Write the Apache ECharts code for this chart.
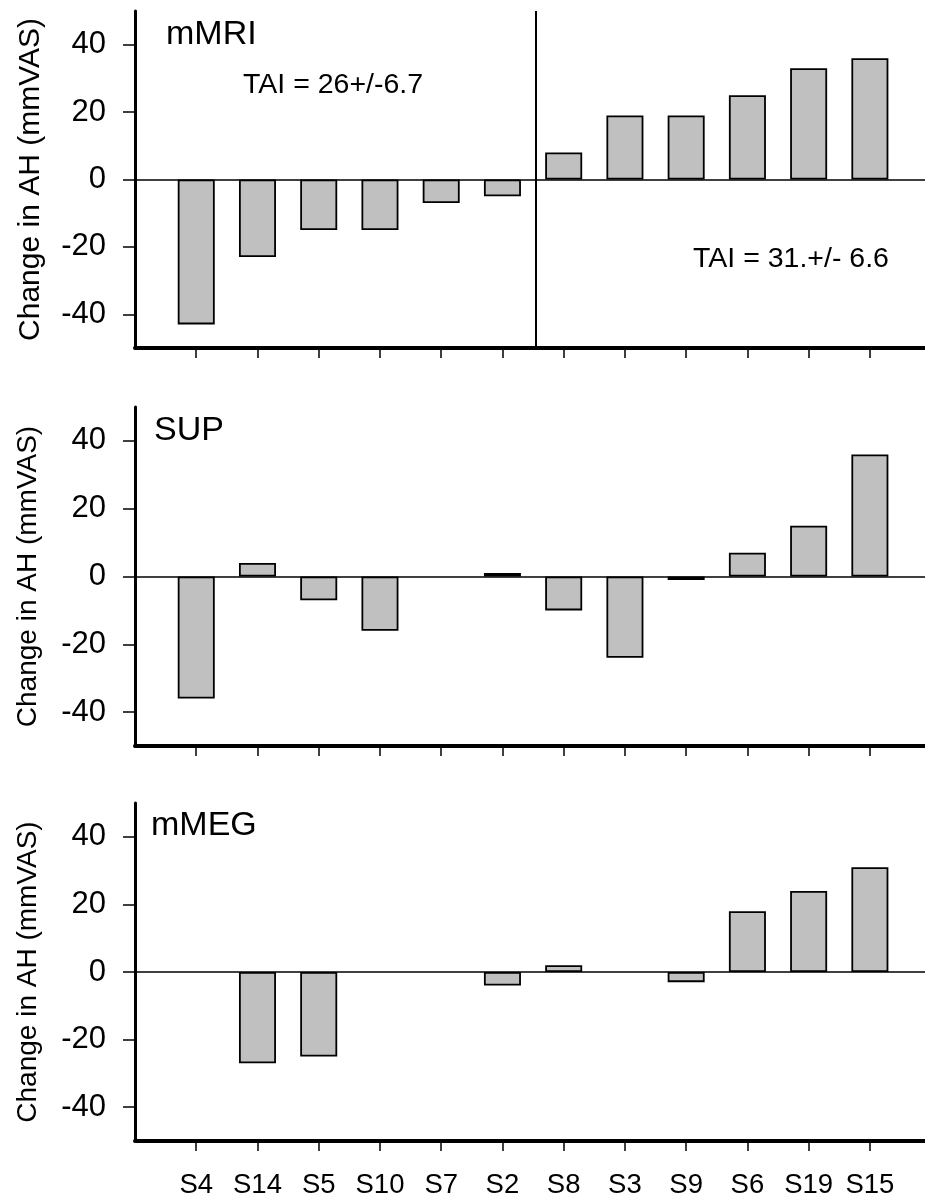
<!DOCTYPE html>
<html>
<head>
<meta charset="utf-8">
<script src="https://cdn.jsdelivr.net/npm/echarts@6/dist/echarts.min.js"></script>
<style>
  html, body { margin: 0; padding: 0; background: #fff; }
  #chart { width: 925px; height: 1196px; }
</style>
</head>
<body>
<div id="chart"></div>
<script>
// subjects, in plotting order
var subjects = ['S4', 'S14', 'S5', 'S10', 'S7', 'S2', 'S8', 'S3', 'S9', 'S6', 'S19', 'S15'];
// change in AH (mmVAS) per panel
var mMRI = [-43, -23, -15, -15, -7, -5, 8, 19, 19, 25, 33, 36];
var SUP  = [-36, 4, -7, -16, 0, 1, -10, -24, -1, 7, 15, 36];
var mMEG = [0, -27, -25, 0, 0, -4, 2, 0, -3, 18, 24, 31];
var panelNames = ['mMRI', 'SUP', 'mMEG'];
var yTicks = [-40, -20, 0, 20, 40];
var xTicks = [0, 1, 2, 3, 4, 5, 6, 7, 8, 9, 10, 11];
var splitAt = 5.55; // divider between the two groups in mMRI

var font = 'Liberation Sans, Arial, sans-serif';
var grids = [
  { left: 135, right: 0, top: 11, height: 337, outerBoundsMode: 'none' },
  { left: 135, right: 0, top: 407, height: 339, outerBoundsMode: 'none' },
  { left: 135, right: 0, top: 803, height: 338, outerBoundsMode: 'none' }
];

function toBars(arr) {
  var out = [];
  for (var i = 0; i < arr.length; i++) {
    var item = { value: [i, arr[i]] };
    if (arr[i] === 0) { item.itemStyle = { borderWidth: 0 }; } // nothing drawn for empty
    out.push(item);
  }
  return out;
}

var xAxes = [], yAxes = [], series = [];
var panels = [mMRI, SUP, mMEG];
for (var p = 0; p < 3; p++) {
  xAxes.push({
    type: 'value', gridIndex: p, min: -1, max: 11.9,
    axisLine: { show: true, onZero: false, lineStyle: { color: '#000', width: 4 } },
    axisTick: { show: true, inside: false, length: 10, customValues: xTicks, lineStyle: { color: '#000', width: 1.5 } },
    axisLabel: {
      show: p === 2, customValues: xTicks, margin: 30,
      color: '#000', fontFamily: font, fontSize: 27.5,
      formatter: function (v) { return subjects[Math.round(v)] || ''; }
    },
    splitLine: { show: false }
  });
  yAxes.push({
    type: 'value', gridIndex: p, min: -50, max: 50,
    name: 'Change in AH (mmVAS)', nameLocation: 'middle', nameRotate: 90,
    nameGap: p === 0 ? 89 : 93, nameMoveOverlap: false,
    nameTextStyle: { color: '#000', fontFamily: font, fontSize: p === 0 ? 30 : 28 },
    axisLine: { show: true, onZero: false, lineStyle: { color: '#000', width: 3 } },
    axisTick: { show: true, length: 12, customValues: yTicks, lineStyle: { color: '#000', width: 1.5 } },
    axisLabel: { customValues: yTicks, margin: 29, color: '#000', fontFamily: font, fontSize: 31 },
    splitLine: { show: false }
  });
  var lines = [{ yAxis: 0, lineStyle: { width: 1.5 } }];
  if (p === 0) lines.push({ xAxis: splitAt, lineStyle: { width: 2 } });
  series.push({
    type: 'bar', xAxisIndex: p, yAxisIndex: p,
    barWidth: 37,
    data: toBars(panels[p]),
    itemStyle: { color: '#c0c0c0', borderColor: '#000', borderWidth: 1.8 },
    markLine: {
      silent: true, symbol: ['none', 'none'], label: { show: false },
      lineStyle: { color: '#000', type: 'solid' },
      data: lines
    },
    z: 2
  });
}

var texts = [
  { x: 166, y: 35, text: 'mMRI', size: 34 },
  { x: 154, y: 431, text: 'SUP', size: 34 },
  { x: 151, y: 826, text: 'mMEG', size: 34 },
  { x: 243, y: 85, text: 'TAI = 26+/-6.7', size: 28.5 },
  { x: 693, y: 259, text: 'TAI = 31.+/- 6.6', size: 28.5 }
];
var graphic = [];
for (var t = 0; t < texts.length; t++) {
  graphic.push({
    type: 'text', left: texts[t].x, top: texts[t].y - texts[t].size / 2,
    style: { text: texts[t].text, fill: '#000', font: texts[t].size + 'px ' + font }
  });
}

var chart = echarts.init(document.getElementById('chart'));
chart.setOption({
  animation: false,
  backgroundColor: '#fff',
  grid: grids,
  xAxis: xAxes,
  yAxis: yAxes,
  series: series,
  graphic: graphic
});
</script>
</body>
</html>
